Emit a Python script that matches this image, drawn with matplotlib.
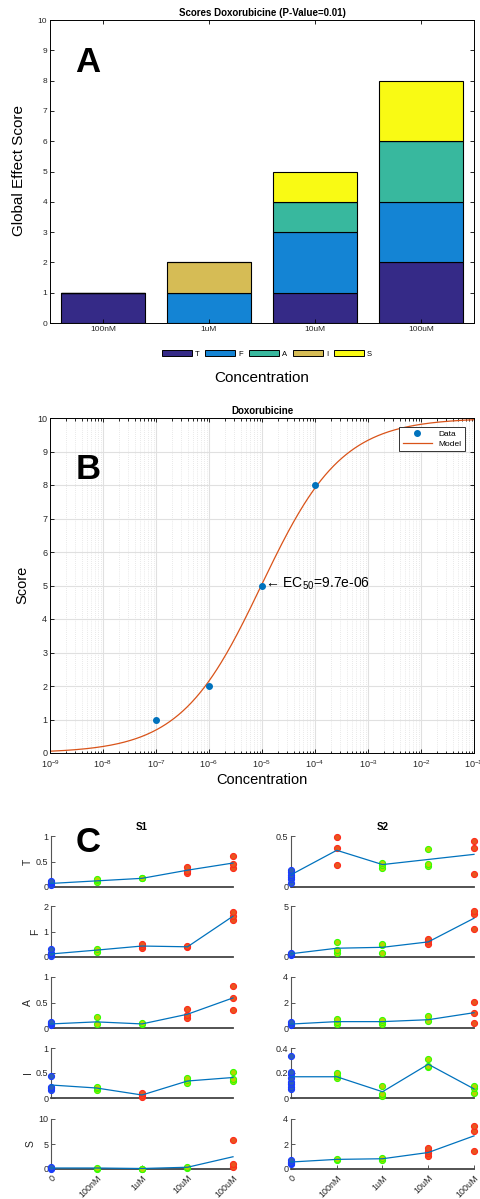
import numpy as np
import matplotlib
matplotlib.use('Agg')
import matplotlib.pyplot as plt
from matplotlib.ticker import LogLocator, NullFormatter

plt.rcParams['font.family'] = ['Liberation Sans', 'DejaVu Sans']
plt.rcParams['mathtext.fontset'] = 'custom'
plt.rcParams['mathtext.rm'] = 'Liberation Sans'
plt.rcParams['mathtext.it'] = 'Liberation Sans:italic'
plt.rcParams['mathtext.bf'] = 'Liberation Sans:bold'

# ---- panel A data
doses = ['100nM', '1uM', '10uM', '100uM']
effects = ['T', 'F', 'A', 'I', 'S']
score_T = [1, 0, 1, 2]
score_F = [0, 1, 2, 2]
score_A = [0, 0, 1, 2]
score_I = [0, 1, 0, 0]
score_S = [0, 0, 1, 2]
effect_colors = ['#352a87', '#1484d4', '#38b89e', '#d6bc55', '#f9fa14']

# ---- panel B data
conc = [1e-7, 1e-6, 1e-5, 1e-4]
score = [1, 2, 5, 8]
ec50 = 9.7e-6
hill = 0.57
top = 10.0

# ---- panel C data
c_labels = ['0', '100nM', '1uM', '10uM', '100uM']
s1_points = {
    'T': [[0.04, 0.07, 0.10, 0.12], [0.10, 0.13, 0.15], [0.17, 0.18], [0.28, 0.32, 0.40], [0.38, 0.45, 0.60]],
    'F': [[0.05, 0.10, 0.15, 0.30], [0.20, 0.30], [0.35, 0.45, 0.52], [0.38, 0.42], [1.45, 1.60, 1.78]],
    'A': [[0.05, 0.08, 0.10, 0.12], [0.07, 0.22], [0.07, 0.09], [0.20, 0.25, 0.37], [0.35, 0.59, 0.82]],
    'I': [[0.17, 0.20, 0.23, 0.45], [0.16, 0.20, 0.22], [0.02, 0.06, 0.10], [0.30, 0.36, 0.40], [0.34, 0.38, 0.53]],
    'S': [[0.10, 0.20, 0.40], [0.10, 0.25], [0.05, 0.10], [0.30, 0.40], [0.50, 1.00, 5.85]],
}
s1_means = {
    'T': [0.07, 0.12, 0.17, 0.33, 0.47],
    'F': [0.12, 0.27, 0.43, 0.40, 1.60],
    'A': [0.08, 0.12, 0.08, 0.27, 0.59],
    'I': [0.26, 0.20, 0.06, 0.34, 0.41],
    'S': [0.20, 0.20, 0.10, 0.35, 2.45],
}
s1_classes = {
    'T': ['c', 'n', 'n', 's', 's'],
    'F': ['c', 'n', 's', 's', 's'],
    'A': ['c', 'n', 'n', 's', 's'],
    'I': ['c', 'n', 's', 'n', 'n'],
    'S': ['c', 'n', 'n', 'n', 's'],
}
s2_points = {
    'T': [[0.04, 0.08, 0.10, 0.12, 0.15, 0.17], [0.215, 0.38, 0.49], [0.19, 0.22, 0.24], [0.21, 0.23, 0.37], [0.125, 0.38, 0.45]],
    'F': [[0.20, 0.30, 0.40], [0.40, 0.66, 1.48], [0.43, 1.15, 1.30], [1.30, 1.55, 1.80], [2.73, 4.20, 4.50]],
    'A': [[0.20, 0.30, 0.45], [0.30, 0.50, 0.70], [0.30, 0.50, 0.60], [0.52, 0.97], [0.39, 1.18, 2.04]],
    'I': [[0.07, 0.09, 0.11, 0.13, 0.16, 0.19, 0.21, 0.34], [0.16, 0.18, 0.20], [0.02, 0.03, 0.10], [0.25, 0.26, 0.31], [0.04, 0.08, 0.10]],
    'S': [[0.40, 0.50, 0.60, 0.70], [0.70, 0.80], [0.70, 0.85], [1.06, 1.30, 1.45, 1.67], [1.46, 3.02, 3.47]],
}
s2_means = {
    'T': [0.12, 0.36, 0.22, 0.27, 0.32],
    'F': [0.32, 0.86, 0.95, 1.48, 3.80],
    'A': [0.31, 0.50, 0.50, 0.65, 1.20],
    'I': [0.17, 0.17, 0.05, 0.27, 0.073],
    'S': [0.56, 0.77, 0.82, 1.32, 2.65],
}
s2_classes = {
    'T': ['c', 's', 'n', 'n', 's'],
    'F': ['c', 'n', 'n', 's', 's'],
    'A': ['c', 'n', 'n', 'n', 's'],
    'I': ['c', 'n', 'n', 'n', 'n'],
    'S': ['c', 'n', 'n', 's', 's'],
}
s1_ylims = {'T': (1, [0, 0.5, 1]), 'F': (2, [0, 1, 2]), 'A': (1, [0, 0.5, 1]), 'I': (1, [0, 0.5, 1]), 'S': (10, [0, 5, 10])}
s2_ylims = {'T': (0.5, [0, 0.5]), 'F': (5, [0, 5]), 'A': (4, [0, 2, 4]), 'I': (0.4, [0, 0.2, 0.4]), 'S': (4, [0, 2, 4])}

face = {'c': '#2e5fb8', 'n': '#b8d400', 's': '#e8561e'}
edge = {'c': '#1a3cff', 'n': '#33ff00', 's': '#ff2a1a'}

W, H = 481, 1199
TXT = '#262626'


def box(l, t, r, b):
    return [l / W, 1 - b / H, (r - l) / W, (b - t) / H]


fig = plt.figure(figsize=(W / 100, H / 100), dpi=100)

# ================= A
axA = fig.add_axes(box(50, 20, 474, 323))
x = np.arange(1, len(doses) + 1)
bottom = np.zeros(len(doses))
for vals, col in zip([score_T, score_F, score_A, score_I, score_S], effect_colors):
    axA.bar(x, vals, 0.8, bottom=bottom, color=col, edgecolor='black', linewidth=0.8)
    bottom += np.array(vals)
axA.set_xlim(0.5, 4.5)
axA.set_ylim(0, 10)
axA.set_xticks(x)
axA.set_xticklabels(doses)
axA.set_yticks(range(11))
axA.tick_params(direction='in', top=True, right=True, length=3, width=0.6,
                labelsize=6, labelcolor=TXT, pad=2)
for s in axA.spines.values():
    s.set_linewidth(0.7)
axA.set_title('Scores Doxorubicine (P-Value=0.01)', fontsize=7, fontweight='bold', pad=3)
fig.text(88 / W, 1 - 62 / H, 'A', fontsize=25, fontweight='bold', ha='center', va='center')
handles = [plt.Rectangle((0, 0), 1, 1, facecolor=c, edgecolor='black', linewidth=0.7) for c in effect_colors]
fig.legend(handles, effects, loc='center', bbox_to_anchor=(267 / W, 1 - 354 / H), ncol=5,
           frameon=False, fontsize=5.5, handlelength=3.9, handleheight=0.8,
           handletextpad=0.4, columnspacing=0.8)
fig.text(262 / W, 1 - 378 / H, 'Concentration', fontsize=11, ha='center', va='center')
fig.text(19 / W, 1 - 171 / H, 'Global Effect Score', fontsize=11, ha='center', va='center', rotation=90)

# ================= B
axB = fig.add_axes(box(50, 418, 474, 753))
xs = np.logspace(-9, -1, 400)
model = top / (1 + (ec50 / xs) ** hill)
axB.plot(conc, score, 'o', color='#0072BD', markersize=4, label='Data', zorder=3)
axB.plot(xs, model, color='#D95319', linewidth=0.9, label='Model', zorder=2)
axB.set_xscale('log')
axB.set_xlim(1e-9, 1e-1)
axB.set_ylim(0, 10)
axB.set_yticks(range(11))
axB.xaxis.set_major_locator(LogLocator(base=10, numticks=20))
axB.xaxis.set_minor_locator(LogLocator(base=10, subs=np.arange(2, 10), numticks=20))
axB.xaxis.set_minor_formatter(NullFormatter())
axB.grid(True, which='major', color='#e0e0e0', linewidth=0.8)
axB.grid(True, which='minor', axis='x', color='#d4d4d4', linestyle=(0, (1, 2)), linewidth=0.5)
axB.set_axisbelow(True)
axB.tick_params(which='both', direction='in', top=True, right=True, width=0.6,
                labelsize=6.5, labelcolor=TXT, pad=2)
axB.tick_params(axis='x', which='major', pad=4)
axB.tick_params(which='major', length=3)
axB.tick_params(which='minor', length=1.8)
for s in axB.spines.values():
    s.set_linewidth(0.7)
axB.set_title('Doxorubicine', fontsize=7, fontweight='bold', pad=3)
axB.annotate('\u2190 EC$_{50}$=9.7e-06', xy=(conc[2], score[2]), xytext=(2, 1),
             textcoords='offset points', fontsize=10, ha='left', va='center')
leg = axB.legend(loc='upper right', fontsize=6, borderaxespad=1.1, handlelength=3.5,
                 fancybox=False, edgecolor='#333333', framealpha=1, borderpad=0.4,
                 labelspacing=0.2)
leg.get_frame().set_linewidth(0.7)
fig.text(88 / W, 1 - 470 / H, 'B', fontsize=25, fontweight='bold', ha='center', va='center')
fig.text(262 / W, 1 - 780 / H, 'Concentration', fontsize=10.5, ha='center', va='center')
fig.text(22 / W, 1 - 585 / H, 'Score', fontsize=10.5, ha='center', va='center', rotation=90)

# ================= C
rows = [(836, 887), (906, 957), (977, 1028), (1048, 1098), (1119, 1169)]
cols = [(51, 233), (291, 474)]
samples = [('S1', s1_points, s1_means, s1_classes, s1_ylims),
           ('S2', s2_points, s2_means, s2_classes, s2_ylims)]
for ci, (name, pts, means, classes, ylims) in enumerate(samples):
    l, r = cols[ci]
    for ri, eff in enumerate(effects):
        t, b = rows[ri]
        ax = fig.add_axes(box(l, t, r, b))
        for xi in range(5):
            cl = classes[eff][xi]
            yv = pts[eff][xi]
            ax.scatter([xi] * len(yv), yv, s=19, c=face[cl], edgecolors=edge[cl],
                       linewidths=0.8, zorder=3, clip_on=False)
        ax.plot(range(5), means[eff], color='#0072BD', linewidth=0.9, zorder=4, clip_on=False)
        ymax, yt = ylims[eff]
        ax.set_xlim(0, 4)
        ax.set_ylim(0, ymax)
        ax.set_yticks(yt)
        ax.set_yticklabels([f'{v:g}' for v in yt])
        ax.spines['top'].set_visible(False)
        ax.spines['right'].set_visible(False)
        ax.spines['left'].set_color('#555555')
        ax.spines['left'].set_linewidth(0.8)
        ax.spines['bottom'].set_color('#444444')
        ax.spines['bottom'].set_linewidth(1.3)
        ax.tick_params(axis='y', direction='in', length=3, width=0.7, color='#555555',
                       labelsize=6.5, labelcolor=TXT, pad=2)
        if ri == len(effects) - 1:
            ax.set_xticks(range(5))
            ax.set_xticklabels(c_labels, rotation=45, ha='right', va='top',
                               rotation_mode='anchor', fontsize=6.5, color=TXT)
            ax.tick_params(axis='x', direction='in', length=3, width=0.7, color='#555555', pad=3)
        else:
            ax.set_xticks([])
        if ri == 0:
            ax.set_title(name, fontsize=7, fontweight='bold', pad=4)
        if ci == 0:
            ax.set_ylabel(eff, fontsize=7.5, color=TXT, labelpad=2)

fig.text(88 / W, 1 - 843 / H, 'C', fontsize=25, fontweight='bold', ha='center', va='center')

fig.savefig('out.png', dpi=100)
